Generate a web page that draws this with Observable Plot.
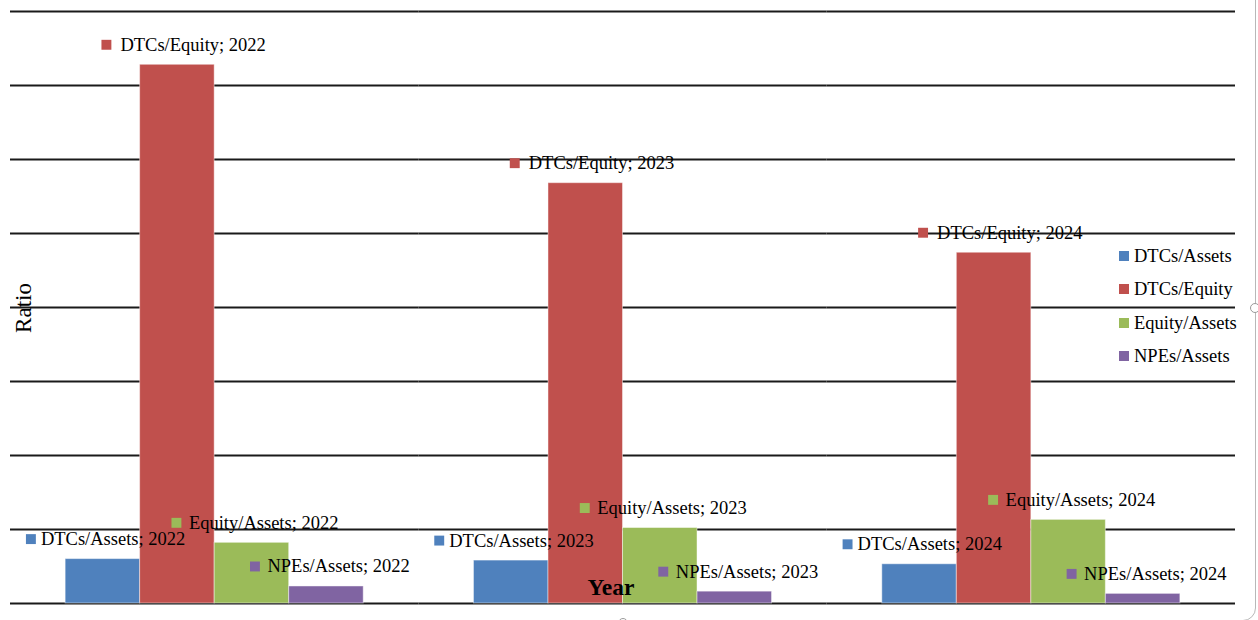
<!DOCTYPE html>
<html>
<head>
<meta charset="utf-8">
<script src="https://cdn.jsdelivr.net/npm/d3@7"></script>
<script src="https://cdn.jsdelivr.net/npm/@observablehq/plot@0.6"></script>
<style>
  html, body { margin: 0; padding: 0; background: #fff; overflow: hidden; }
  #wrap { position: relative; width: 1258px; height: 620px; overflow: hidden;
          font-family: "Times New Roman", "Liberation Serif", serif; color: #000; }
  #chart svg { display: block; }
  .frame { position: absolute; left: -20px; top: -20px; width: 1276px; height: 641px;
           box-sizing: border-box; border: 1.5px solid #b8b8b8; border-radius: 13px; pointer-events: none; }
  .handle { position: absolute; width: 8px; height: 8px; border-radius: 50%;
            background: #fff; border: 1.2px solid #9a9a9a; transform: translate(-50%, -50%); }
  .legend-item { position: absolute; left: 1119px; height: 20px; line-height: 20px; font-size: 18.5px; white-space: nowrap; }
  .legend-item .sw { position: absolute; left: 0; top: 5px; width: 10px; height: 10px; }
  .legend-item .tx { position: absolute; left: 15px; top: 0; }
  .ylabel { position: absolute; left: 24px; top: 308px; font-size: 23px; line-height: 24px;
            transform: translate(-50%, -50%) rotate(-90deg); white-space: nowrap; }
  .xlabel { position: absolute; left: 611px; top: 575px; font-size: 23.5px; line-height: 24px; font-weight: bold;
            transform: translateX(-50%); white-space: nowrap; }
</style>
</head>
<body>
<div id="wrap">
  <div id="chart"></div>
</div>
<script>
// Years on the category axis and the four ratio series
const years = ["2022", "2023", "2024"];
const seriesNames = ["DTCs/Assets", "DTCs/Equity", "Equity/Assets", "NPEs/Assets"];

// Ratio values per year (2022, 2023, 2024)
const dtcsAssets   = [0.060, 0.058, 0.053];
const dtcsEquity   = [0.728, 0.568, 0.474];
const equityAssets = [0.082, 0.102, 0.113];
const npesAssets   = [0.023, 0.016, 0.013];

// Horizontal gridline positions
const gridTicks = [0, 0.1, 0.2, 0.3, 0.4, 0.5, 0.6, 0.7, 0.8];

const seriesColors = ["#4f81bd", "#c0504d", "#9bbb59", "#8064a2"];

// Horizontal offsets (px) of each data label's key square and text from the bar centre
const labelOffsets = {
  "DTCs/Assets":   {key: -72,   text: -62},
  "DTCs/Equity":   {key: -71,   text: -57},
  "Equity/Assets": {key: -75.5, text: -63},
  "NPEs/Assets":   {key: -71.5, text: -59}
};

const seriesValues = [dtcsAssets, dtcsEquity, equityAssets, npesAssets];
const rows = years.flatMap((year, i) =>
  seriesNames.map((series, j) => ({year, series, value: seriesValues[j][i]}))
);

const serif = "'Times New Roman', 'Liberation Serif', serif";

const labelMarks = seriesNames.flatMap((s) => {
  const data = rows.filter((d) => d.series === s);
  const off = labelOffsets[s];
  return [
    Plot.dot(data, {
      fx: "year", x: "series", y: "value",
      symbol: "square", r: 5.6, fill: "series", stroke: "none",
      dx: off.key, dy: -20
    }),
    Plot.text(data, {
      fx: "year", x: "series", y: "value",
      text: (d) => `${d.series}; ${d.year}`,
      textAnchor: "start", dx: off.text, dy: -20,
      fontFamily: serif, fontSize: 18.5, fill: "#000"
    })
  ];
});

const chart = Plot.plot({
  width: 1258,
  height: 620,
  marginLeft: 10,
  marginRight: 23,
  marginTop: 11,
  marginBottom: 17,
  style: {background: "transparent", fontFamily: serif, overflow: "visible"},
  fx: {domain: years, padding: 0, round: false, axis: null, label: null},
  x: {domain: seriesNames, paddingInner: 0, paddingOuter: 0.74, align: 0.5, round: false, axis: null},
  y: {domain: [0, 0.8], axis: null},
  color: {domain: seriesNames, range: seriesColors},
  marks: [
    Plot.ruleY(gridTicks, {stroke: "#1a1a1a", strokeWidth: 1.8}),
    Plot.barY(rows, {
      fx: "year", x: "series", y: "value", fill: "series",
      stroke: "#ffffff", strokeOpacity: 0.45, strokeWidth: 1
    }),
    ...labelMarks
  ]
});

document.getElementById("chart").appendChild(chart);

const wrap = document.getElementById("wrap");

// Axis titles
const yl = document.createElement("div");
yl.className = "ylabel";
yl.textContent = "Ratio";
wrap.appendChild(yl);

const xl = document.createElement("div");
xl.className = "xlabel";
xl.textContent = "Year";
wrap.appendChild(xl);

// Legend on the right
const legendTops = [246, 279, 313, 346];
seriesNames.forEach((s, i) => {
  const item = document.createElement("div");
  item.className = "legend-item";
  item.style.top = legendTops[i] + "px";
  const sw = document.createElement("span");
  sw.className = "sw";
  sw.style.background = seriesColors[i];
  const tx = document.createElement("span");
  tx.className = "tx";
  tx.textContent = s;
  item.appendChild(sw);
  item.appendChild(tx);
  wrap.appendChild(item);
});

// Chart frame with its selection handles
const frame = document.createElement("div");
frame.className = "frame";
wrap.appendChild(frame);
[[1255, 308], [623, 623]].forEach(([x, y]) => {
  const h = document.createElement("div");
  h.className = "handle";
  h.style.left = x + "px";
  h.style.top = y + "px";
  wrap.appendChild(h);
});
</script>
</body>
</html>
